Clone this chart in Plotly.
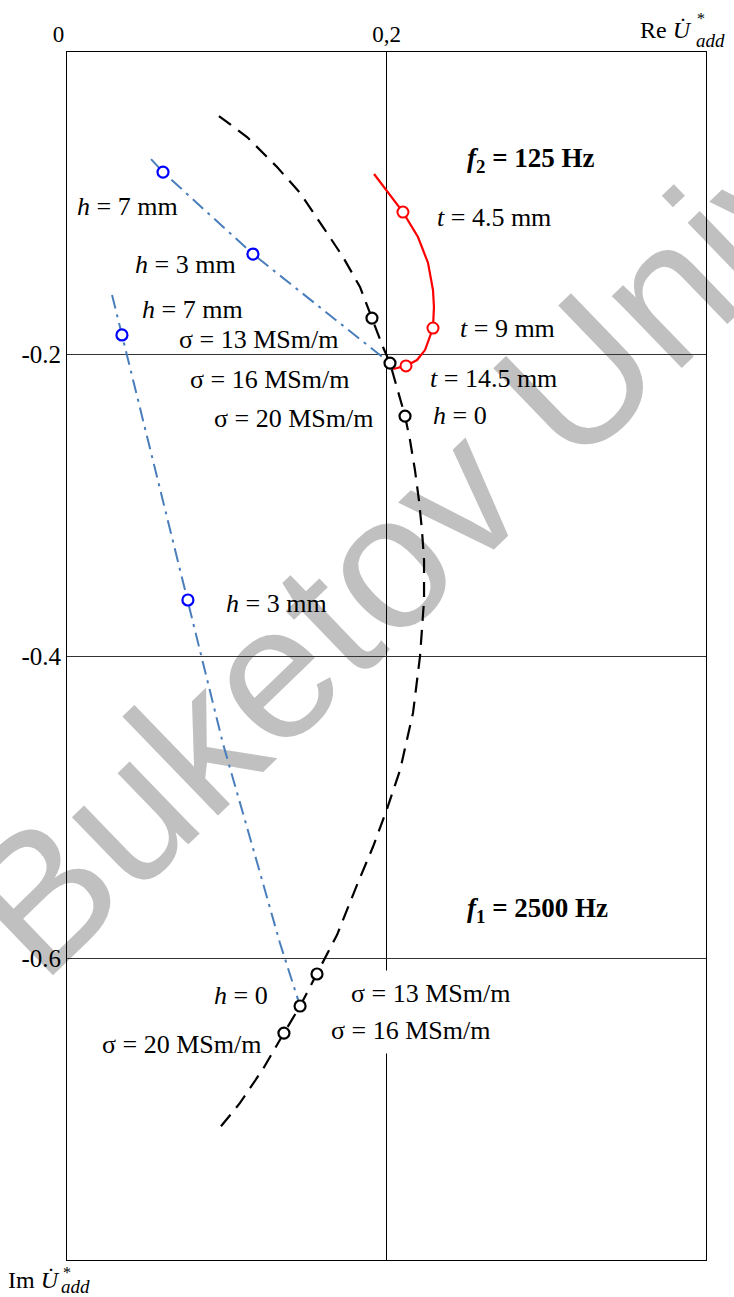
import plotly.graph_objects as go

# ---------------- data (Re, Im of U*add) ----------------
# sigma locus (h = 0), both frequencies, one dashed curve
sigma_re = [0.0951, 0.1127, 0.1315, 0.1459, 0.1603, 0.1728, 0.1834, 0.1909, 0.1978, 0.2022,
            0.2072, 0.2116, 0.2147, 0.2178, 0.2203, 0.2222, 0.2235, 0.2235, 0.2210, 0.2166,
            0.2085, 0.2003, 0.1915, 0.1815, 0.1690, 0.1603, 0.1565, 0.1459, 0.1358, 0.1227,
            0.1083, 0.0945]
sigma_im = [-0.0424, -0.0563, -0.0762, -0.0934, -0.1159, -0.1358, -0.1556, -0.1762, -0.1954, -0.2060,
            -0.2238, -0.2411, -0.2570, -0.2768, -0.2967, -0.3166, -0.3364, -0.3629, -0.4000, -0.4377,
            -0.4755, -0.5013, -0.5265, -0.5517, -0.5848, -0.6026, -0.6106, -0.6318, -0.6497, -0.6735,
            -0.6960, -0.7139]
# sigma = 13, 16, 20 MSm/m points (f2 then f1)
sigma_pts_re = [0.1909, 0.2022, 0.2116, 0.1565, 0.1459, 0.1358]
sigma_pts_im = [-0.1762, -0.2060, -0.2411, -0.6106, -0.6318, -0.6497]

# h locus, f2 = 125 Hz
h_f2_re = [0.0526, 0.0601, 0.1164, 0.1628, 0.2022]
h_f2_im = [-0.0709, -0.0795, -0.1338, -0.1728, -0.2060]
# h locus, f1 = 2500 Hz
h_f1_re = [0.0282, 0.0344, 0.0757, 0.0977, 0.1189, 0.1333, 0.1459]
h_f1_im = [-0.1609, -0.1874, -0.3629, -0.4583, -0.5364, -0.5901, -0.6318]
# h = 7 mm and h = 3 mm points
h_pts_re = [0.0601, 0.1164, 0.0344, 0.0757]
h_pts_im = [-0.0795, -0.1338, -0.1874, -0.3629]

# t locus, f2 = 125 Hz
t_re = [0.1922, 0.2103, 0.2197, 0.2260, 0.2291, 0.2297, 0.2291, 0.2241, 0.2191, 0.2122, 0.2041]
t_im = [-0.0808, -0.1060, -0.1225, -0.1397, -0.1576, -0.1689, -0.1828, -0.1974, -0.2040, -0.2079, -0.2099]
t_pts_re = [0.2103, 0.2291, 0.2122]
t_pts_im = [-0.1060, -0.1828, -0.2079]

x_tickvals = [0, 0.2]
x_ticktext = ["0\u00a0\u00a0\u00a0", "0,2"]
y_tickvals = [-0.2, -0.4, -0.6]
y_ticktext = ["-0.2", "-0.4", "-0.6"]

label_texts = ["<i>h</i> = 7 mm", "<i>h</i> = 3 mm", "<i>h</i> = 7 mm",
               "σ = 13 MSm/m", "σ = 16 MSm/m", "σ = 20 MSm/m", "<i>h</i> = 0",
               "<i>t</i> = 4.5 mm", "<i>t</i> = 9 mm", "<i>t</i> = 14.5 mm",
               "<i>h</i> = 3 mm", "<i>h</i> = 0", "σ = 20 MSm/m"]
label_x = [0.0050, 0.0413, 0.0457, 0.0689, 0.0757, 0.0908, 0.2279,
           0.2304, 0.2448, 0.2260, 0.0983, 0.0908, 0.0207]
label_y = [-0.1026, -0.1404, -0.1702, -0.1907, -0.2166, -0.2430, -0.2404,
           -0.1099, -0.1834, -0.2159, -0.3649, -0.6245, -0.6570]

boxed_texts = ["σ = 13 MSm/m", "σ = 16 MSm/m"]
boxed_x = [0.1722, 0.1596]
boxed_y = [-0.6238, -0.6477]

freq_texts = ["<b><i>f</i><sub>2</sub> = 125 Hz</b>", "<b><i>f</i><sub>1</sub> = 2500 Hz</b>"]
freq_x = [0.2491, 0.2491]
freq_y = [-0.0715, -0.5682]

SERIF = "Liberation Serif"

fig = go.Figure()

fig.add_trace(go.Scatter(x=sigma_re, y=sigma_im, mode="lines",
                         line=dict(color="black", width=2.2, dash="15px,9px"),
                         hoverinfo="skip", showlegend=False))
fig.add_trace(go.Scatter(x=h_f2_re, y=h_f2_im, mode="lines",
                         line=dict(color="#4a7ebb", width=2, dash="14px,6px,3px,6px"),
                         hoverinfo="skip", showlegend=False))
fig.add_trace(go.Scatter(x=h_f1_re, y=h_f1_im, mode="lines",
                         line=dict(color="#4a7ebb", width=2, dash="14px,6px,3px,6px"),
                         hoverinfo="skip", showlegend=False))
fig.add_trace(go.Scatter(x=t_re, y=t_im, mode="lines",
                         line=dict(color="#ff0000", width=2.2),
                         hoverinfo="skip", showlegend=False))
fig.add_trace(go.Scatter(x=sigma_pts_re, y=sigma_pts_im, mode="markers",
                         marker=dict(symbol="circle", size=11, color="white",
                                     line=dict(color="black", width=2.2)),
                         showlegend=False))
fig.add_trace(go.Scatter(x=h_pts_re, y=h_pts_im, mode="markers",
                         marker=dict(symbol="circle", size=11, color="white",
                                     line=dict(color="#0000ff", width=2.2)),
                         showlegend=False))
fig.add_trace(go.Scatter(x=t_pts_re, y=t_pts_im, mode="markers",
                         marker=dict(symbol="circle", size=11, color="white",
                                     line=dict(color="#ff0000", width=2)),
                         showlegend=False))

annotations = []
for t, x, y in zip(label_texts, label_x, label_y):
    annotations.append(dict(text=t, x=x, y=y, xref="x", yref="y", xanchor="left",
                            yanchor="middle", showarrow=False,
                            font=dict(family=SERIF, size=26, color="black")))
for t, x, y in zip(boxed_texts, boxed_x, boxed_y):
    annotations.append(dict(text=t, x=x, y=y, xref="x", yref="y", xanchor="left",
                            yanchor="middle", showarrow=False, bgcolor="white", borderpad=8,
                            font=dict(family=SERIF, size=26, color="black")))
for t, x, y in zip(freq_texts, freq_x, freq_y):
    annotations.append(dict(text=t, x=x, y=y, xref="x", yref="y", xanchor="left",
                            yanchor="middle", showarrow=False,
                            font=dict(family=SERIF, size=27, color="black")))

# axis names:  Re U*add  (top right),  Im U*add (bottom left)
def axis_name(prefix, x_main, y_main, x_star, y_star, x_sub, y_sub, anchor):
    annotations.append(dict(text=prefix + " <i>U\u0307</i>", x=x_main, y=y_main, xref="paper",
                            yref="paper", xanchor=anchor, yanchor="middle", showarrow=False,
                            font=dict(family=SERIF, size=24, color="black")))
    annotations.append(dict(text="*", x=x_star, y=y_star, xref="paper", yref="paper",
                            xanchor="center", yanchor="middle", showarrow=False,
                            font=dict(family=SERIF, size=16, color="black")))
    annotations.append(dict(text="<i>add</i>", x=x_sub, y=y_sub, xref="paper", yref="paper",
                            xanchor="left", yanchor="middle", showarrow=False,
                            font=dict(family=SERIF, size=19, color="black")))

axis_name("Re", 0.9812, 1.0182, 0.9922, 1.0281, 0.9812, 1.0099, "right")
axis_name("Im", -0.0955, -0.0166, -0.0003, -0.0100, -0.0126, -0.0223, "left")

fig.update_layout(
    width=734, height=1297,
    margin=dict(l=67, r=28, t=52, b=37),
    paper_bgcolor="white", plot_bgcolor="white",
    showlegend=False,
    annotations=annotations,
    shapes=[dict(type="line", xref="paper", yref="paper",
                 x0=-0.0125, y0=0.2119, x1=0.5504, y1=0.4994,
                 line=dict(color="rgba(0,0,0,0)", width=0), layer="below",
                 label=dict(text="Buketov University", textposition="start",
                            font=dict(family="Liberation Sans", size=190, color="#c0c0c0")))],
    xaxis=dict(range=[0, 0.4], side="top", tickvals=x_tickvals, ticktext=x_ticktext,
               showgrid=True, gridcolor="black", gridwidth=1, zeroline=False,
               showline=True, mirror=True, linecolor="black", linewidth=1, ticks="",
               tickfont=dict(family=SERIF, size=23, color="black"), fixedrange=True),
    yaxis=dict(range=[-0.8, 0], tickvals=y_tickvals, ticktext=y_ticktext,
               showgrid=True, gridcolor="#333333", gridwidth=1.2, zeroline=False,
               showline=True, mirror=True, linecolor="black", linewidth=1, ticks="",
               tickfont=dict(family=SERIF, size=25, color="black"), fixedrange=True),
)

fig.write_html("out.html", config={"displayModeBar": False},
               post_script="document.body.style.margin='0px';")
